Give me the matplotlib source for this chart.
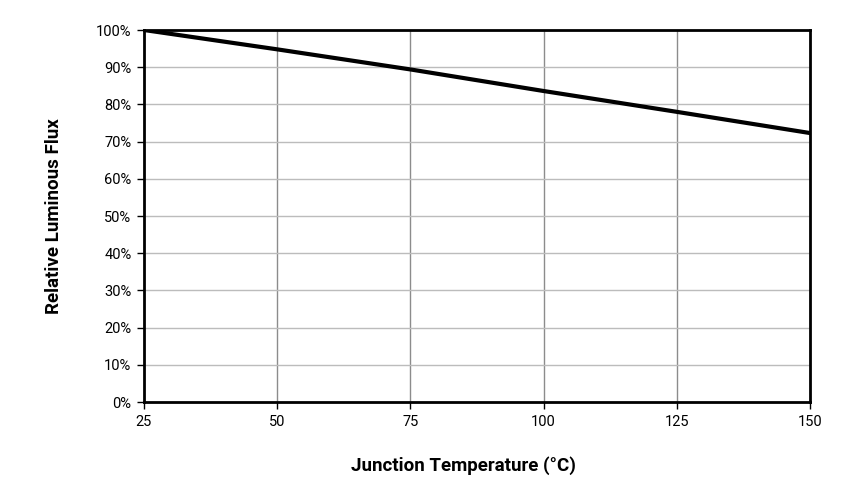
import matplotlib
matplotlib.use('Agg')
import matplotlib.pyplot as plt
from matplotlib.ticker import PercentFormatter

# data
temp_c = [25, 50, 75, 100, 125, 150]
rel_flux = [100, 94.8, 89.4, 83.6, 78.0, 72.3]

x_ticks = [25, 50, 75, 100, 125, 150]
y_ticks = list(range(0, 101, 10))

plt.rcParams['font.family'] = ['Roboto', 'DejaVu Sans']

fig = plt.figure(figsize=(8.48, 4.87), dpi=100)
ax = fig.add_axes([144/848, 1-402/487, (810-144)/848, (402-30)/487])

# grid: vertical darker than horizontal
for x in x_ticks[1:-1]:
    ax.axvline(x, color='#8c8c8c', lw=1, zorder=1)
for y in y_ticks[1:-1]:
    ax.axhline(y, color='#bcbcbc', lw=1, zorder=1)

ax.plot(temp_c, rel_flux, color='black', lw=3, zorder=3)

ax.set_xlim(25, 150)
ax.set_ylim(0, 100)
ax.set_xticks(x_ticks)
ax.set_yticks(y_ticks)
ax.yaxis.set_major_formatter(PercentFormatter(decimals=0))

for s in ax.spines.values():
    s.set_linewidth(2)
    s.set_color('black')
ax.tick_params(direction='out', length=5, width=1, labelsize=10.5, pad=4)

ax.set_xlabel('Junction Temperature (°C)', fontsize=13.5, fontweight='bold', labelpad=20)
ax.xaxis.label.set_x((463-144)/666)
ax.set_ylabel('Relative Luminous Flux', fontsize=13.5, fontweight='bold', labelpad=24)

fig.savefig('out.png', dpi=100)
